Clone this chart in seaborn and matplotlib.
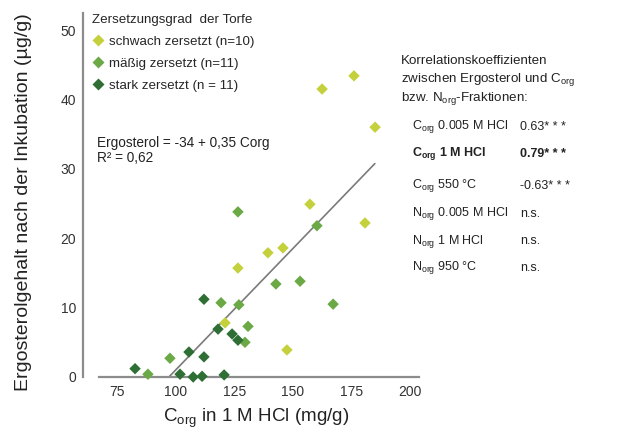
import matplotlib
matplotlib.use("Agg")
import matplotlib.pyplot as plt
import seaborn as sns
import pandas as pd
import numpy as np

# ---- data ----
groups = ["schwach zersetzt (n=10)", "mäßig zersetzt (n=11)", "stark zersetzt (n = 11)"]
schwach_x = [162.5, 176.1, 185.1, 157.3, 139.4, 145.8, 126.6, 121.1, 147.5, 180.8]
schwach_y = [41.5, 43.4, 36.0, 24.9, 17.9, 18.6, 15.7, 7.8, 3.9, 22.2]
maessig_x = [126.6, 160.3, 142.8, 153.1, 167.2, 119.4, 127.0, 130.9, 129.6, 97.6, 88.2]
maessig_y = [23.8, 21.8, 13.4, 13.8, 10.5, 10.7, 10.4, 7.3, 5.0, 2.7, 0.4]
stark_x = [82.7, 105.7, 112.1, 112.1, 118.1, 124.1, 126.6, 101.9, 107.5, 111.3, 120.7]
stark_y = [1.2, 3.6, 11.2, 2.9, 6.9, 6.2, 5.3, 0.4, 0.0, 0.1, 0.3]
fit_intercept = -34.0
fit_slope = 0.35
fit_x_end = 185.0
x_ticks = [75, 100, 125, 150, 175, 200]
y_ticks = [0, 10, 20, 30, 40, 50]
corr_labels = [r"C$_{\mathregular{org}}$ 0.005 M HCl", r"C$_{\mathregular{org}}$ 1 M HCl",
               r"C$_{\mathregular{org}}$ 550 °C", r"N$_{\mathregular{org}}$ 0.005 M HCl",
               r"N$_{\mathregular{org}}$ 1 M HCl", r"N$_{\mathregular{org}}$ 950 °C"]
corr_values = ["0.63* * *", "0.79* * *", "-0.63* * *", "n.s.", "n.s.", "n.s."]

colors = ["#c4d13c", "#6aa945", "#2f6f36"]

df = pd.DataFrame({
    "x": schwach_x + maessig_x + stark_x,
    "y": schwach_y + maessig_y + stark_y,
    "g": [groups[0]] * len(schwach_x) + [groups[1]] * len(maessig_x) + [groups[2]] * len(stark_x),
})

sns.set_theme(style="white")
plt.rcParams["font.family"] = ["Liberation Sans", "DejaVu Sans"]
plt.rcParams["mathtext.fontset"] = "custom"
plt.rcParams["mathtext.rm"] = "Liberation Sans"
plt.rcParams["mathtext.bf"] = "Liberation Sans:bold"

W, H = 618, 430
fig = plt.figure(figsize=(W / 100, H / 100), dpi=100)

def fx(px):
    return px / W

def fy(py):
    return 1 - py / H

ax_l, ax_r, ax_t, ax_b = 83, 440, 12.7, 377
ax_w, ax_h = ax_r - ax_l, ax_b - ax_t
ax = fig.add_axes([fx(ax_l), fy(ax_b), fx(ax_w), ax_h / H])

sns.scatterplot(data=df, x="x", y="y", hue="g", hue_order=groups, palette=colors,
                marker="D", s=34, edgecolor="none", clip_on=False, ax=ax, zorder=3)

fx_line = np.array([-fit_intercept / fit_slope, fit_x_end])
ax.plot(fx_line, fit_intercept + fit_slope * fx_line, color="#7a7a7a", lw=1.2, zorder=2)

ax.set_xlim(60.5, 212.8)
ax.set_ylim(0, 52.5)
ax.set_xticks(x_ticks)
ax.set_yticks(y_ticks)
for s in ["top", "right"]:
    ax.spines[s].set_visible(False)
for s in ["left", "bottom"]:
    ax.spines[s].set_color("#8c8c8c")
    ax.spines[s].set_linewidth(1.6)
ax.spines["bottom"].set_bounds(67.3, 204)
ax.tick_params(axis="both", direction="inout", length=6, width=1.2, color="#8c8c8c",
               labelsize=10, labelcolor="#333333", pad=3)
ax.tick_params(axis="y", pad=2)
ax.set_xlabel(r"C$_{\mathregular{org}}$ in 1 M HCl (mg/g)", fontsize=13.5, color="#222222")
ax.set_ylabel("Ergosterolgehalt nach der Inkubation (µg/g)", fontsize=14, color="#222222")
ax.xaxis.set_label_coords((256 - ax_l) / ax_w, (ax_b - 407) / ax_h)
ax.yaxis.set_label_coords((32 - ax_l) / ax_w, (ax_b - 202) / ax_h)

leg = ax.legend(title="Zersetzungsgrad  der Torfe", loc="upper left",
                bbox_to_anchor=(fx(92), fy(14)), bbox_transform=fig.transFigure,
                frameon=False, fontsize=9.6, title_fontsize=9.6, handletextpad=0.35,
                handlelength=0.9, labelspacing=0.72, borderaxespad=0, borderpad=0)
leg._legend_box.align = "left"
for h in leg.legend_handles:
    if hasattr(h, "set_sizes"):
        h.set_sizes([24])

fig.text(fx(97), fy(143), "Ergosterol = -34 + 0,35 Corg", fontsize=9.8, va="center", color="#222222")
fig.text(fx(97), fy(158), "R² = 0,62", fontsize=9.8, va="center", color="#222222")

# correlation table
fig.text(fx(401), fy(61), "Korrelationskoeffizienten", fontsize=9.6, va="center", color="#222222")
fig.text(fx(401), fy(80), r"zwischen Ergosterol und C$_{\mathregular{org}}$", fontsize=9.6, va="center", color="#222222")
fig.text(fx(401), fy(99), r"bzw. N$_{\mathregular{org}}$-Fraktionen:", fontsize=9.6, va="center", color="#222222")
row_y = [127, 154, 186, 214, 241, 268]
for i, (lab, val) in enumerate(zip(corr_labels, corr_values)):
    bold = (i == 1)
    if bold:
        lab = lab.replace(r"\mathregular{org}", r"\mathbf{org}")
    fig.text(fx(412), fy(row_y[i]), lab, fontsize=9, va="center", color="#222222",
             fontweight="bold" if bold else "normal")
    fig.text(fx(520), fy(row_y[i]), val, fontsize=9, va="center", color="#222222",
             fontweight="bold" if bold else "normal")

fig.savefig("out.png", dpi=100)
